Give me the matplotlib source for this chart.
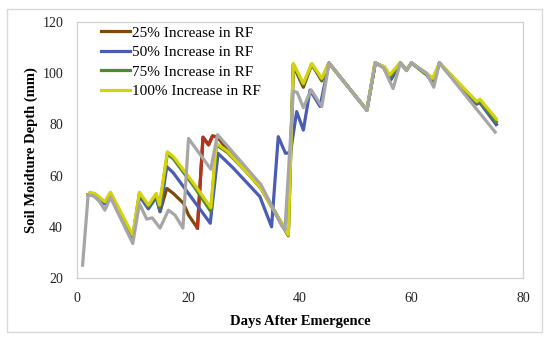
import matplotlib.pyplot as plt
from matplotlib.patches import Rectangle

plt.rcParams['font.family'] = ['Liberation Serif', 'DejaVu Serif']

# base case (grey line)
base_x = [1, 2, 3, 4, 5, 6, 10, 11.2, 12.5, 13.5, 14.9, 16.4, 17.6, 19, 20, 24, 25.2, 27, 33, 36.7, 37.3,
          38.8, 39.5, 40.6, 42, 43.9, 45.2, 52, 53.5, 55, 56.7, 58, 59.1, 60, 62.7, 64, 65, 75]
base_y = [25, 52.5, 52, 50, 46.5, 51.5, 33.5, 49, 43, 43.5, 39.5, 46.5, 44.5, 39.5, 74.5, 62.5, 76, 71.5, 56.5, 40.5, 38.8,
          93, 92.5, 86.5, 93.5, 87, 104, 85.5, 104, 102, 94, 104, 101, 104, 100, 94.5, 104, 77]

# 25% increase
rf25_x = [2, 3.2, 5, 6, 10, 11.2, 12.8, 14.2, 14.9, 16.1, 17.3, 19.1, 20, 21.6, 22.6, 23.6, 24.3, 25.2, 27, 33, 37.9,
          38.8, 40.6, 42.1, 43.9, 45.2, 52, 53.5, 55, 56.3, 58, 59.1, 60, 62.7, 63.9, 65, 71.7, 72.3, 75.2]
rf25_y = [52.5, 52.5, 49, 53, 35.5, 52.5, 47.5, 52, 45.9, 55, 53, 49.2, 44.6, 39.5, 75, 72, 75.5, 75, 70, 55, 36.5,
          103, 94.5, 103.5, 97, 104, 85.5, 104, 102.5, 97.5, 104, 101.2, 104, 99.5, 96, 104, 88, 88.5, 80]

# spike shown in red around day 22-25
red_x = [21.6, 22.6, 23.6, 24.3, 25.2]
red_y = [39.5, 75, 72, 75.5, 75]

# 50% increase
rf50_x = [2, 3.2, 5, 6, 10, 11.2, 12.8, 14.2, 14.9, 16.1, 17.3, 20, 23.9, 25.3, 28, 32.8, 34.9, 36.1, 37.4, 38.3,
          39.4, 40.6, 41.8, 43.6, 45.2, 52, 53.5, 55, 56.3, 58, 59.1, 60, 62.7, 63.9, 65, 71.7, 72.3, 75.2]
rf50_y = [52.5, 52.5, 49, 53, 35.5, 52, 47, 51.5, 45.9, 63.5, 61, 53, 41.4, 68.7, 63, 51.8, 40, 75.2, 68.7, 69,
          85, 77.8, 93.4, 87, 104, 85.5, 104, 102.5, 97.5, 104, 101.2, 104, 99.5, 96, 104, 88, 88.5, 80]

# 75% increase
rf75_x = [2, 3.2, 5, 6, 10, 11.2, 12.8, 14.2, 14.8, 16.2, 17.3, 20.9, 24, 25, 27, 33, 37.9,
          38.8, 40.6, 42.1, 43.9, 45.2, 52, 53.5, 55, 56.2, 58, 59.1, 60, 62.7, 63.9, 65, 71.7, 72.3, 75.2]
rf75_y = [52.5, 52.8, 49.5, 53.2, 36, 53, 48, 52.5, 47.5, 68.5, 66.5, 56, 46, 72, 69, 55.5, 36.8,
          103.5, 95.5, 103.5, 97.5, 104, 85.5, 104, 102.5, 98.5, 104, 101.2, 104, 99.5, 97, 104, 88.5, 89, 81]

# 100% increase
rf100_x = [2, 2.3, 3.2, 5, 6, 10, 11.2, 12.8, 14.2, 14.8, 16.2, 17.3, 20.9, 24, 25, 27, 32.8, 34.6, 36.4, 37.9,
           38.8, 40.6, 42.1, 43.9, 45.2, 52, 53.4, 55.2, 56.1, 57.9, 59.1, 60, 62.7, 63.8, 65, 71.7, 72.3, 75.2]
rf100_y = [52.5, 53.5, 53, 49.8, 53.5, 36.8, 53.5, 48.5, 53, 48.5, 69.3, 67.4, 57, 47.5, 72.6, 69.5, 55.7, 49, 42.6, 36.8,
           103.8, 96, 103.8, 98, 104, 85.5, 104, 102.5, 99.3, 104, 101.2, 104, 100, 98, 104, 89, 89.8, 82.2]

x_ticks = [0, 20, 40, 60, 80]
y_ticks = [20, 40, 60, 80, 100, 120]

fig = plt.figure(figsize=(5.5, 3.42), dpi=100)
ax = fig.add_axes([77 / 550, 1 - 278 / 342, 446 / 550, 256 / 342])

lw = 2.3
ax.plot(rf25_x, rf25_y, color='#7b4a0c', lw=lw, label='25% Increase in RF')
ax.plot(red_x, red_y, color='#b3341a', lw=lw)
ax.plot(rf50_x, rf50_y, color='#4a5db3', lw=lw, label='50% Increase in RF')
ax.plot(rf75_x, rf75_y, color='#4e8a2e', lw=lw, label='75% Increase in RF')
ax.plot(rf100_x, rf100_y, color='#d6d20e', lw=lw, label='100% Increase in RF')
ax.plot(base_x, base_y, color='#a6a6a6', lw=lw)

ax.set_xlim(0, 80)
ax.set_ylim(20, 120)
ax.set_xticks(x_ticks)
ax.set_yticks(y_ticks)
ax.tick_params(length=0, labelsize=10, colors='#222222')
ax.tick_params(axis='x', pad=10)
ax.tick_params(axis='y', pad=10)
for s in ax.spines.values():
    s.set_color('#d0d0d0')
    s.set_linewidth(0.9)

ax.set_xlabel('Days After Emergence', fontsize=10.5, fontweight='bold', labelpad=7)
ax.set_ylabel('Soil Moidture Depth (mm)', fontsize=10.5, fontweight='bold', labelpad=3)

ax.legend(loc='upper left', bbox_to_anchor=(101 / 550, 1 - 26 / 342), bbox_transform=fig.transFigure,
          frameon=False, fontsize=11, handlelength=1.9, handletextpad=0.15, labelspacing=0.38,
          borderpad=0, borderaxespad=0)

fig.patches.append(Rectangle((7 / 550, 1 - 332 / 342), 535 / 550, 323 / 342, transform=fig.transFigure,
                             fill=False, edgecolor='#d9d9d9', lw=1))

fig.savefig('out.png', dpi=100)
